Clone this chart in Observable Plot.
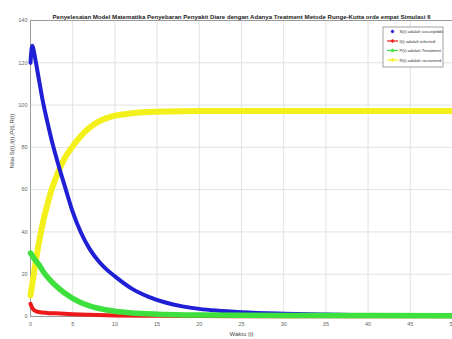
<!DOCTYPE html>
<html>
<head>
<meta charset="utf-8">
<script src="https://cdn.jsdelivr.net/npm/d3@7"></script>
<script src="https://cdn.jsdelivr.net/npm/@observablehq/plot@0.6"></script>
<style>
  html, body { margin: 0; padding: 0; background: #fff; }
  #chart { width: 452px; height: 339px; }
</style>
</head>
<body>
<div id="chart"></div>
<script>
const title = "Penyelesaian Model Matematika Penyebaran Penyakit Diare dengan Adanya Treatment Metode Runge-Kutta orde empat Simulasi II";
const xLabel = "Waktu (t)";
const yLabel = "Nilai S(t),I(t),P(t),R(t)";
const xTicks = [0, 5, 10, 15, 20, 25, 30, 35, 40, 45, 50];
const yTicks = [0, 20, 40, 60, 80, 100, 120, 140];
const seriesNames = ["S(t) adalah susceptible", "I(t) adalah infected", "P(t) adalah Treatment", "R(t) adalah recovered"];
const seriesColors = ["#1f1fd6", "#ee1a1a", "#3ee03e", "#f4f01c"];

// S(t)
const tS = [0, 0.2, 0.6, 1, 1.5, 2, 2.5, 3, 3.5, 4, 5, 6, 7, 8, 9, 10, 12, 14, 16, 18, 20, 22, 25, 30, 35, 40, 45, 50];
const S  = [120, 128, 121, 112, 101, 92, 83.5, 76, 69, 62.5, 49.5, 39.5, 32, 26.5, 22.3, 19, 13.2, 9.3, 6.6, 4.8, 3.6, 2.8, 2.0, 1.3, 0.9, 0.7, 0.6, 0.5];
// I(t)
const tI = [0, 0.1, 0.3, 0.6, 1, 2, 3, 5, 7, 10, 15, 20, 30, 50];
const I  = [6, 5, 3.5, 2.6, 2.1, 1.7, 1.5, 1.1, 0.8, 0.5, 0.3, 0.2, 0.1, 0.1];
// P(t)
const tP = [0, 0.5, 1, 1.5, 2, 3, 4, 5, 6, 7, 8, 9, 10, 12, 15, 20, 30, 50];
const P  = [30, 27, 24.5, 21.3, 18.7, 14.5, 11.2, 8.6, 6.5, 5, 3.9, 3.1, 2.5, 1.7, 1.1, 0.7, 0.5, 0.4];
// R(t)
const tR = [0, 0.5, 1, 1.5, 2, 2.5, 3, 3.5, 4, 5, 6, 7, 8, 9, 10, 12, 14, 16, 20, 30, 40, 50];
const R  = [10, 23, 35, 45, 53, 60, 65.5, 70.5, 74.5, 80.5, 85.5, 89.3, 92, 93.8, 95, 96.1, 96.7, 97, 97.2, 97.2, 97.2, 97.2];

const toRows = (t, v) => t.map((ti, i) => ({t: ti, v: v[i]}));
const rowsS = toRows(tS, S), rowsI = toRows(tI, I), rowsP = toRows(tP, P), rowsR = toRows(tR, R);

const font = "'Liberation Sans', Arial, Helvetica, sans-serif";

const chart = Plot.plot({
  width: 452,
  height: 339,
  marginLeft: 30,
  marginRight: 0,
  marginTop: 20,
  marginBottom: 23,
  style: {fontFamily: font, fontSize: "5.5px", background: "#fff", color: "#666", overflow: "visible"},
  x: {domain: [0, 50]},
  y: {domain: [0, 140]},
  marks: [
    Plot.gridX(xTicks, {stroke: "#e2e2e2", strokeOpacity: 1}),
    Plot.gridY(yTicks, {stroke: "#e2e2e2", strokeOpacity: 1}),
    Plot.frame({stroke: "#9a9a9a"}),
    Plot.axisX(xTicks, {tickSize: 0, tickPadding: 6, label: null, fill: "#666"}),
    Plot.axisY(yTicks, {tickSize: 0, tickPadding: 3, label: null, fill: "#666"}),
    Plot.line(rowsR, {x: "t", y: "v", stroke: seriesColors[3], strokeWidth: 6, curve: "monotone-x"}),
    Plot.line(rowsS, {x: "t", y: "v", stroke: seriesColors[0], strokeWidth: 4, curve: "monotone-x"}),
    Plot.line(rowsI, {x: "t", y: "v", stroke: seriesColors[1], strokeWidth: 4, curve: "monotone-x"}),
    Plot.line(rowsP, {x: "t", y: "v", stroke: seriesColors[2], strokeWidth: 5.5, curve: "monotone-x"}),
    Plot.text([title], {frameAnchor: "top", dy: -6, text: d => d, fontWeight: "bold", fontSize: 6.1, fill: "#222"}),
    Plot.text([xLabel], {frameAnchor: "bottom", dy: 19, text: d => d, fontSize: 6, fill: "#444"}),
    Plot.text([yLabel], {frameAnchor: "left", dx: -18, rotate: -90, text: d => d, fontSize: 6, fill: "#444"})
  ]
});
document.getElementById("chart").appendChild(chart);

// legend (MATLAB style box, top-right)
const svg = d3.select(chart);
const lg = svg.append("g").attr("font-family", font).attr("font-size", "4.3px").attr("fill", "#333")
  .attr("text-anchor", "start");
lg.append("rect").attr("x", 383).attr("y", 27).attr("width", 60).attr("height", 40)
  .attr("fill", "#fff").attr("stroke", "#8a8a8a").attr("stroke-width", 0.8);
const rowY = [31.5, 41, 50.5, 60];
seriesNames.forEach((name, i) => {
  const y = rowY[i];
  if (i > 0) {
    lg.append("line").attr("x1", 387).attr("x2", 398).attr("y1", y).attr("y2", y)
      .attr("stroke", seriesColors[i]).attr("stroke-width", 1.2);
  }
  const cx = 392.5, r = 1.8;
  const star = `M${cx - r},${y}L${cx + r},${y}M${cx},${y - r}L${cx},${y + r}M${cx - r * 0.7},${y - r * 0.7}L${cx + r * 0.7},${y + r * 0.7}M${cx - r * 0.7},${y + r * 0.7}L${cx + r * 0.7},${y - r * 0.7}`;
  lg.append("path").attr("d", star).attr("stroke", seriesColors[i]).attr("stroke-width", 0.9).attr("fill", "none");
  lg.append("text").attr("x", 399.5).attr("y", y).attr("dy", "0.35em").attr("text-anchor", "start").text(name);
});
</script>
</body>
</html>
